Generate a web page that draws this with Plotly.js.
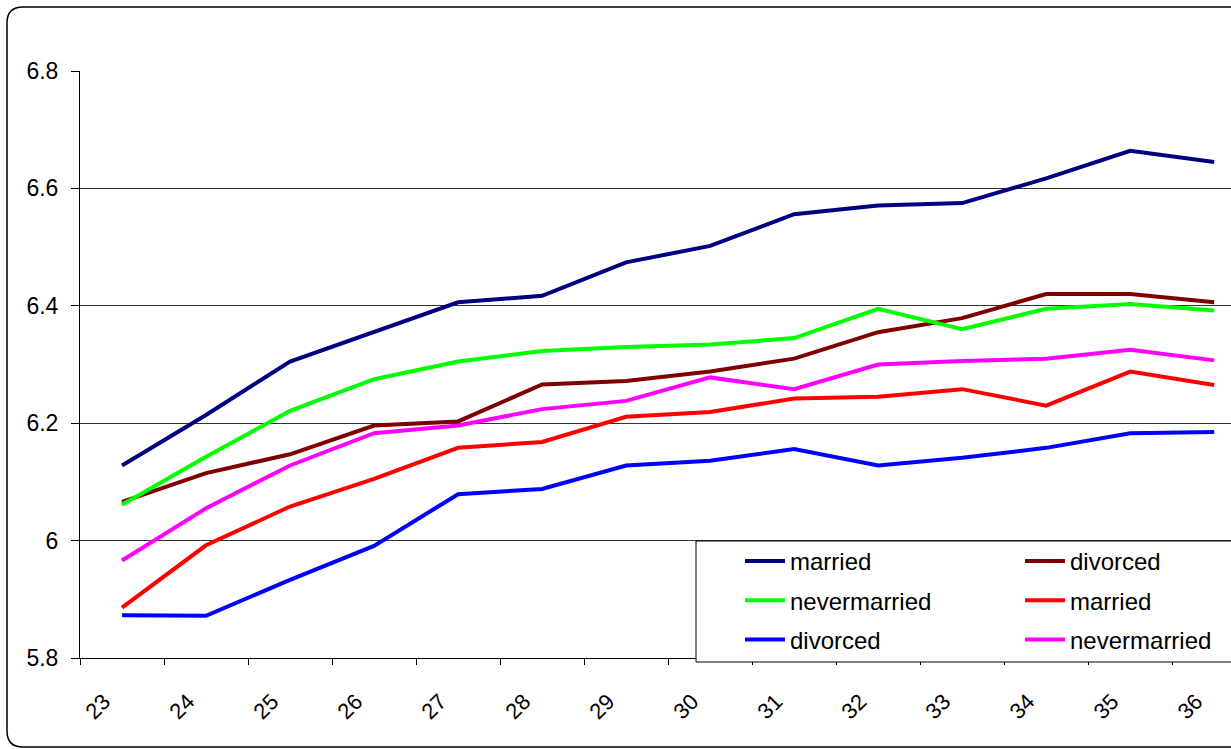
<!DOCTYPE html>
<html>
<head>
<meta charset="utf-8">
<script src="https://cdn.plot.ly/plotly-3.0.1.min.js"></script>
<style>html,body{margin:0;padding:0;background:#fff;}#chart{width:1231px;height:749px;}</style>
</head>
<body>
<div id="chart"></div>
<script>
// Categories (age)
var ages = ['23','24','25','26','27','28','29','30','31','32','33','34','35','36'];

// Series values
var marriedA      = [6.128, 6.214, 6.305, 6.356, 6.406, 6.417, 6.474, 6.502, 6.556, 6.571, 6.575, 6.617, 6.664, 6.645];
var divorcedA     = [6.066, 6.115, 6.147, 6.196, 6.203, 6.266, 6.272, 6.288, 6.310, 6.355, 6.379, 6.420, 6.420, 6.406];
var nevermarriedA = [6.061, 6.143, 6.221, 6.275, 6.305, 6.323, 6.330, 6.334, 6.345, 6.395, 6.360, 6.395, 6.403, 6.392];
var marriedB      = [5.886, 5.992, 6.058, 6.105, 6.158, 6.168, 6.211, 6.219, 6.242, 6.245, 6.258, 6.230, 6.288, 6.265];
var divorcedB     = [5.873, 5.872, 5.933, 5.991, 6.079, 6.088, 6.128, 6.136, 6.156, 6.128, 6.141, 6.158, 6.183, 6.185];
var nevermarriedB = [5.966, 6.055, 6.128, 6.183, 6.196, 6.224, 6.238, 6.278, 6.258, 6.300, 6.306, 6.310, 6.325, 6.307];

var seriesNames = ['married', 'divorced', 'nevermarried', 'married', 'divorced', 'nevermarried'];
var seriesData  = [marriedA, divorcedA, nevermarriedA, marriedB, divorcedB, nevermarriedB];
var seriesColors = ['#000080', '#800000', '#00FF00', '#FF0000', '#0000FF', '#FF00FF'];
var seriesLegend = ['legend', 'legend2', 'legend', 'legend2', 'legend', 'legend2'];

var FONT = 'Liberation Sans, Arial, sans-serif';

var traces = seriesData.map(function (d, i) {
  return {
    type: 'scatter',
    mode: 'lines',
    x: ages,
    y: d,
    name: seriesNames[i],
    legend: seriesLegend[i],
    legendgroup: 'g' + i,
    line: { color: seriesColors[i], width: 4 },
    hoverinfo: 'x+y+name'
  };
});

// pixel helpers for paper coordinates (decorations only)
var L = 80, T = 71, W = 1151, H = 587;
function px(x) { return (x - L) / W; }
function py(y) { return (T + H - y) / H; }

var r = 16;
var bx0 = 7, by0 = 7, bx1 = 1245, by1 = 747;
var borderPath =
  'M' + px(bx0 + r) + ',' + py(by0) +
  ' L' + px(bx1) + ',' + py(by0) +
  ' M' + px(bx1) + ',' + py(by1) +
  ' L' + px(bx0 + r) + ',' + py(by1) +
  ' Q' + px(bx0) + ',' + py(by1) + ' ' + px(bx0) + ',' + py(by1 - r) +
  ' L' + px(bx0) + ',' + py(by0 + r) +
  ' Q' + px(bx0) + ',' + py(by0) + ' ' + px(bx0 + r) + ',' + py(by0);

var legendCommon = {
  bgcolor: 'rgba(0,0,0,0)',
  borderwidth: 0,
  font: { family: FONT, size: 24, color: '#000' },
  itemwidth: 40,
  tracegroupgap: 5,
  orientation: 'v',
  xanchor: 'left',
  yanchor: 'top',
  y: py(539)
};

var layout = {
  width: 1231,
  height: 749,
  margin: { l: L, r: 0, t: T, b: 749 - T - H, pad: 0 },
  paper_bgcolor: '#FFFFFF',
  plot_bgcolor: 'rgba(0,0,0,0)',
  font: { family: FONT, size: 22, color: '#000' },
  showlegend: true,
  xaxis: {
    type: 'category',
    range: [-0.5, 13.2],
    showline: true,
    linecolor: '#000',
    linewidth: 1,
    showgrid: false,
    zeroline: false,
    ticks: 'outside',
    tickson: 'boundaries',
    ticklen: 6,
    tickcolor: '#000',
    tickwidth: 1,
    tickangle: -45,
    ticklabelstandoff: 21,
    ticklabelshift: -18,
    tickfont: { family: FONT, size: 22, color: '#000' }
  },
  yaxis: {
    range: [5.8, 6.8],
    dtick: 0.2,
    tick0: 5.8,
    showline: true,
    linecolor: '#000',
    linewidth: 1,
    showgrid: true,
    gridcolor: '#333',
    gridwidth: 1,
    zeroline: false,
    ticks: 'outside',
    ticklen: 8,
    tickcolor: '#000',
    tickwidth: 1,
    ticklabelstandoff: 8,
    tickfont: { family: FONT, size: 23, color: '#000' }
  },
  legend: Object.assign({}, legendCommon, { x: px(740) }),
  legend2: Object.assign({}, legendCommon, { x: px(1020) }),
  shapes: [
    {
      type: 'rect', xref: 'paper', yref: 'paper', layer: 'above',
      x0: px(696), x1: px(1260), y0: py(662), y1: py(541),
      fillcolor: '#FFFFFF',
      line: { color: '#000', width: 1 }
    },
    {
      type: 'path', xref: 'paper', yref: 'paper', layer: 'above',
      path: borderPath,
      line: { color: '#000', width: 1.5 }
    }
  ]
};

Plotly.newPlot('chart', traces, layout, { displayModeBar: false, staticPlot: true });
</script>
</body>
</html>
